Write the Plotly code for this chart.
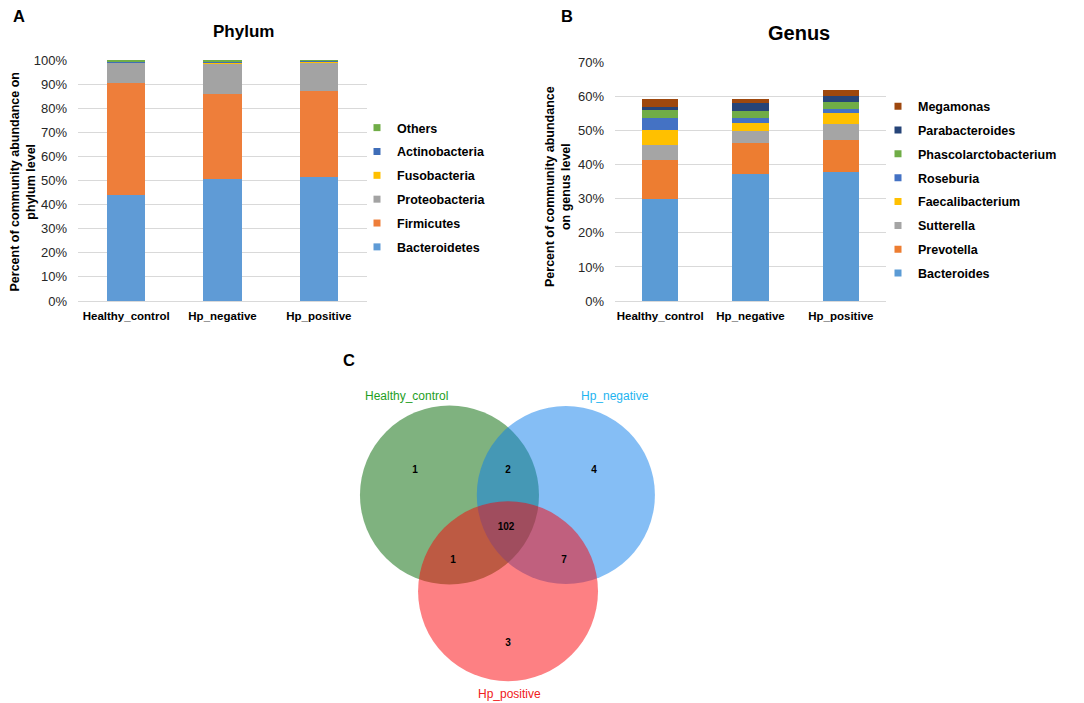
import plotly.graph_objects as go

groups = ["Healthy_control", "Hp_negative", "Hp_positive"]

# phylum level, percent
phylum_names = ["Bacteroidetes", "Firmicutes", "Proteobacteria", "Fusobacteria", "Actinobacteria", "Others"]
phylum_colors = ["#5F9BD6", "#EE7E3A", "#A3A3A3", "#FFC000", "#3F6DB8", "#70AD47"]
bacteroidetes = [44.0, 50.6, 51.3]
firmicutes = [46.6, 35.3, 35.7]
proteobacteria = [8.3, 12.6, 11.9]
fusobacteria = [0.1, 0.6, 0.4]
actinobacteria = [0.5, 0.2, 0.3]
others = [0.5, 0.7, 0.4]
phylum_values = [bacteroidetes, firmicutes, proteobacteria, fusobacteria, actinobacteria, others]

# genus level, percent
genus_names = ["Bacteroides", "Prevotella", "Sutterella", "Faecalibacterium", "Roseburia",
               "Phascolarctobacterium", "Parabacteroides", "Megamonas"]
genus_colors = ["#5B9BD5", "#ED7D31", "#A5A5A5", "#FFC000", "#4472C4", "#70AD47", "#264478", "#9E480E"]
bacteroides = [30.0, 37.3, 37.9]
prevotella = [11.4, 9.1, 9.4]
sutterella = [4.4, 3.5, 4.6]
faecalibacterium = [4.5, 2.5, 3.4]
roseburia = [3.4, 1.4, 1.1]
phascolarctobacterium = [2.3, 2.0, 2.0]
parabacteroides = [1.1, 2.4, 1.8]
megamonas = [2.2, 1.2, 1.8]
genus_values = [bacteroides, prevotella, sutterella, faecalibacterium, roseburia,
                phascolarctobacterium, parabacteroides, megamonas]

# venn (circle radius = 1 unit)
venn_sets = ["Healthy_control", "Hp_negative", "Hp_positive"]
venn_fill = ["rgb(0,101,0)", "rgb(11,125,235)", "rgb(251,1,7)"]
venn_label_colors = ["#1E9E1E", "#1EB4F0", "#F02020"]
venn_cx = [0.0, 1.30, 0.654]
venn_cy = [0.0, 0.0, -1.075]
venn_r = [1.0, 0.995, 1.005]
venn_label_x = [-0.475, 1.849, 0.665]
venn_label_y = [1.106, 1.106, -2.223]
venn_counts = ["1", "2", "4", "102", "1", "7", "3"]
venn_count_x = [-0.385, 0.654, 1.615, 0.631, 0.039, 1.279, 0.654]
venn_count_y = [0.268, 0.268, 0.268, -0.358, -0.737, -0.737, -1.654]

FONT = "Liberation Sans, Arial, sans-serif"

# page body has an 8px margin, so the figure is drawn offset by 8px
OFF = 8
W, H = 1084 - OFF, 703 - OFF


def fx(p):
    return (p - OFF) / W


def fy(p):
    return 1 - (p - OFF) / H


fig = go.Figure()

for name, col, vals in zip(phylum_names, phylum_colors, phylum_values):
    fig.add_trace(go.Bar(x=groups, y=vals, name=name, marker_color=col,
                         marker_line_width=0, width=0.4, showlegend=False,
                         xaxis="x", yaxis="y"))
# legend entries with small square keys
for name, col in list(zip(phylum_names, phylum_colors))[::-1]:
    fig.add_trace(go.Scatter(x=[None], y=[None], mode="markers", name=name,
                             marker=dict(symbol="square", size=7, color=col),
                             legendgroup="a_" + name, legend="legend",
                             xaxis="x", yaxis="y"))

for name, col, vals in zip(genus_names, genus_colors, genus_values):
    fig.add_trace(go.Bar(x=groups, y=vals, name=name, marker_color=col,
                         marker_line_width=0, width=0.4, showlegend=False,
                         xaxis="x2", yaxis="y2"))
for name, col in list(zip(genus_names, genus_colors))[::-1]:
    fig.add_trace(go.Scatter(x=[None], y=[None], mode="markers", name=name,
                             marker=dict(symbol="square", size=7, color=col),
                             legendgroup="b_" + name, legend="legend2",
                             xaxis="x2", yaxis="y2"))

fig.add_trace(go.Scatter(x=venn_count_x, y=venn_count_y, mode="text", text=venn_counts,
                         textfont=dict(family=FONT, size=10, color="black", weight="bold"),
                         showlegend=False, hoverinfo="skip", xaxis="x3", yaxis="y3"))

shapes = []
for cx, cy, r, col in zip(venn_cx, venn_cy, venn_r, venn_fill):
    shapes.append(dict(type="circle", xref="x3", yref="y3",
                       x0=cx - r, x1=cx + r, y0=cy - r, y1=cy + r,
                       fillcolor=col, opacity=0.5, line=dict(width=0), layer="between"))

annotations = []
for txt, x, y, col in zip(venn_sets, venn_label_x, venn_label_y, venn_label_colors):
    annotations.append(dict(text=txt, x=x, y=y, xref="x3", yref="y3", showarrow=False,
                            xanchor="center", yanchor="middle",
                            font=dict(family=FONT, size=12, color=col)))
for txt, x, y in [("A", 19, 16), ("B", 566.5, 16), ("C", 349, 360.5)]:
    annotations.append(dict(text="<b>%s</b>" % txt, x=fx(x), y=fy(y), xref="paper", yref="paper",
                            showarrow=False, xanchor="center", yanchor="middle",
                            font=dict(family=FONT, size=16.5, color="black")))
annotations.append(dict(text="<b>Phylum</b>", x=fx(243), y=fy(32), xref="paper", yref="paper",
                        showarrow=False, xanchor="center", yanchor="middle",
                        font=dict(family=FONT, size=17, color="black")))
annotations.append(dict(text="<b>Genus</b>", x=fx(799), y=fy(33), xref="paper", yref="paper",
                        showarrow=False, xanchor="center", yanchor="middle",
                        font=dict(family=FONT, size=20, color="black")))
# y-axis titles, placed by hand
annotations.append(dict(text="<b>Percent of community abundance on<br>phylum level</b>",
                        x=fx(22.5), y=fy(182), xref="paper", yref="paper", textangle=-90,
                        showarrow=False, xanchor="center", yanchor="middle",
                        font=dict(family=FONT, size=12.5, color="black")))
annotations.append(dict(text="<b>Percent of community abundance<br>on genus level</b>",
                        x=fx(558), y=fy(187), xref="paper", yref="paper", textangle=-90,
                        showarrow=False, xanchor="center", yanchor="middle",
                        font=dict(family=FONT, size=12.5, color="black")))

axis_common = dict(showgrid=False, showline=True, linecolor="#D9D9D9", linewidth=1,
                   ticks="", automargin=False, ticklabelstandoff=4,
                   tickfont=dict(family=FONT, size=11.5, color="black", weight="bold"))
yaxis_common = dict(showgrid=True, gridcolor="#D9D9D9", gridwidth=1, zeroline=False,
                    showline=False, ticksuffix="%", dtick=10, automargin=False,
                    ticklabelstandoff=10,
                    tickfont=dict(family=FONT, size=13, color="#262626"))

legend_common = dict(font=dict(family=FONT, size=12.5, color="black", weight="bold"),
                     bgcolor="rgba(0,0,0,0)", traceorder="grouped", tracegroupgap=4.6,
                     itemwidth=30, xanchor="left", yanchor="top")

fig.update_layout(
    width=W, height=H,
    margin=dict(l=0, r=0, t=0, b=0, autoexpand=False),
    paper_bgcolor="white", plot_bgcolor="white",
    barmode="stack",
    font=dict(family=FONT),
    xaxis=dict(domain=[fx(78), fx(367)], anchor="y", **axis_common),
    yaxis=dict(domain=[fy(301), fy(60)], anchor="x", range=[0, 100], **yaxis_common),
    xaxis2=dict(domain=[fx(615), fx(886)], anchor="y2", **axis_common),
    yaxis2=dict(domain=[fy(301), fy(62.7)], anchor="x2", range=[0, 70], **yaxis_common),
    xaxis3=dict(domain=[fx(340), fx(680)], anchor="y3", range=[-1.223, 2.575], visible=False),
    yaxis3=dict(domain=[fy(703), fy(360)], anchor="x3", range=[-2.324, 1.508], visible=False),
    legend=dict(x=fx(357), y=fy(113), **legend_common),
    legend2=dict(x=fx(878), y=fy(91.5), **legend_common),
    shapes=shapes,
    annotations=annotations,
)

fig.write_html("out.html")
